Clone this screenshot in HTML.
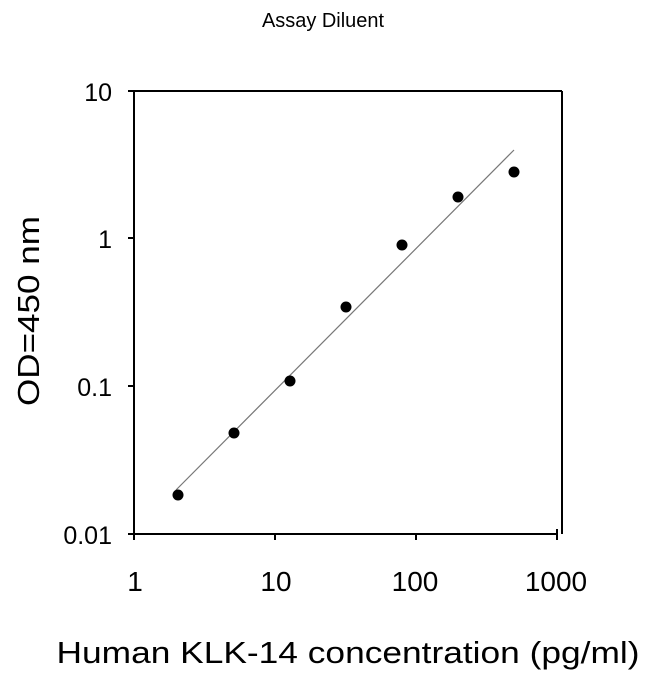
<!DOCTYPE html>
<html><head><style>body{margin:0;background:#fff}</style></head><body>
<svg width="650" height="674" xmlns="http://www.w3.org/2000/svg" font-family="Liberation Sans, Arial, sans-serif">
<rect width="650" height="674" fill="#fff"/>
<text x="323" y="27" font-size="20" text-anchor="middle" textLength="122" lengthAdjust="spacingAndGlyphs">Assay Diluent</text>
<g stroke="#000" stroke-width="2" fill="none">
<line x1="128" y1="91" x2="562" y2="91"/>
<line x1="562" y1="91" x2="562" y2="534"/>
<line x1="134" y1="91" x2="134" y2="540"/>
<line x1="128" y1="534" x2="557" y2="534"/>
<line x1="128" y1="238" x2="134" y2="238"/>
<line x1="128" y1="386" x2="134" y2="386"/>
<line x1="275" y1="534" x2="275" y2="540"/>
<line x1="416" y1="534" x2="416" y2="540"/>
<line x1="557" y1="529" x2="557" y2="540"/>
</g>
<g font-size="25" text-anchor="end">
<text x="112" y="101">10</text>
<text x="112" y="248">1</text>
<text x="112" y="396">0.1</text>
<text x="112" y="544">0.01</text>
</g>
<g font-size="28" text-anchor="middle">
<text x="135" y="591">1</text>
<text x="276" y="591">10</text>
<text x="415" y="591">100</text>
<text x="556" y="591">1000</text>
</g>
<line x1="176" y1="490" x2="514" y2="150" stroke="#777" stroke-width="1.2"/>
<g fill="#000">
<circle cx="178" cy="495" r="5.5"/><circle cx="234" cy="433" r="5.5"/><circle cx="290" cy="381" r="5.5"/>
<circle cx="346" cy="307" r="5.5"/><circle cx="402" cy="245" r="5.5"/><circle cx="458" cy="197" r="5.5"/><circle cx="514" cy="172" r="5.5"/>
</g>
<text x="0" y="0" font-size="31" text-anchor="middle" textLength="190" lengthAdjust="spacingAndGlyphs" transform="translate(39,311) rotate(-90)">OD=450 nm</text>
<text x="348" y="663" font-size="31" text-anchor="middle" textLength="583" lengthAdjust="spacingAndGlyphs">Human KLK-14 concentration (pg/ml)</text>
</svg>
</body></html>
